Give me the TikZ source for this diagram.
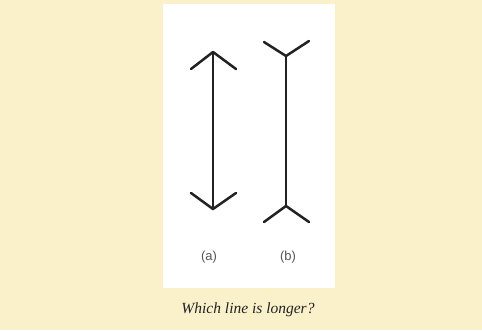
\documentclass[tikz,border=0pt]{standalone}
\usepackage{fontspec}
\setmainfont{Liberation Serif}
\setsansfont{Liberation Sans}
\definecolor{bgyellow}{HTML}{FAF1CB}
\definecolor{ink}{HTML}{222222}
\definecolor{labelgray}{HTML}{555555}
\begin{document}
\begin{tikzpicture}[x=1pt,y=-1pt,
  fig/.style={draw=ink, line width=2.5pt, line cap=round, line join=round},
  lab/.style={font=\sffamily\fontsize{13}{15}\selectfont, text=labelgray},
  captext/.style={font=\itshape\fontsize{15.5}{18}\selectfont, text=ink}]
\fill[bgyellow] (0,0) rectangle (482,330);
\useasboundingbox (0,0) rectangle (482,330);
\fill[white] (163,4) rectangle (335,288);
% (a)
\coordinate (at) at (213,52);
\coordinate (ab) at (213,209);
\coordinate (atl) at (191,69);
\coordinate (atr) at (236,69);
\coordinate (abl) at (191,193);
\coordinate (abr) at (236,193);
\draw[fig] (at) -- (ab);
\draw[fig] (atl) -- (at) -- (atr);
\draw[fig] (abl) -- (ab) -- (abr);
% (b)
\coordinate (bt) at (286,56);
\coordinate (bb) at (286,206);
\coordinate (btl) at (264,42);
\coordinate (btr) at (309,41);
\coordinate (bbl) at (264,222);
\coordinate (bbr) at (309,222);
\draw[fig] (bt) -- (bb);
\draw[fig] (btl) -- (bt) -- (btr);
\draw[fig] (bbl) -- (bb) -- (bbr);
\node[lab] (la) at (209,257) {(a)};
\node[lab] (lb) at (288,257) {(b)};
\node[captext] (caption) at (248,310) {Which line is longer?};
\end{tikzpicture}
\end{document}
